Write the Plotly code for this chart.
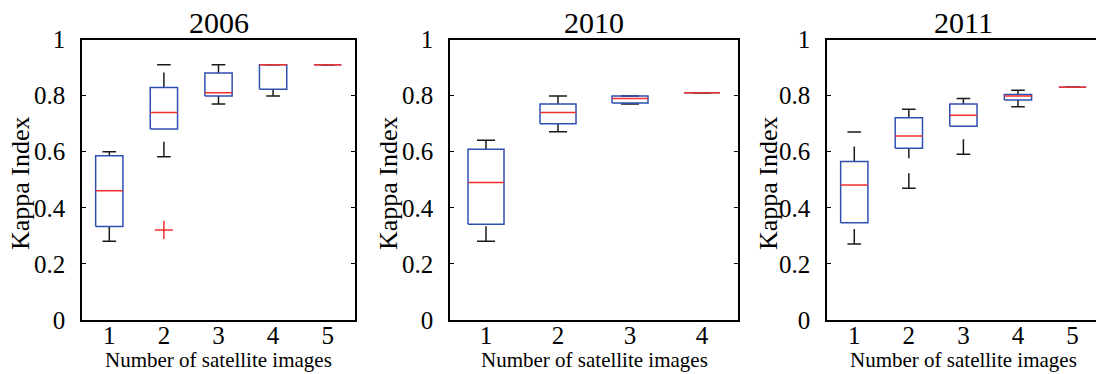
import plotly.graph_objects as go
from plotly.subplots import make_subplots

# Box statistics (Kappa index per number of images)
years = ["2006", "2010", "2011"]

q1_2006 = [0.333, 0.681, 0.799, 0.823, 0.910]
med_2006 = [0.461, 0.740, 0.810, 0.910, 0.910]
q3_2006 = [0.586, 0.829, 0.881, 0.910, 0.910]
lo_2006 = [0.281, 0.582, 0.770, 0.799, 0.910]
hi_2006 = [0.600, 0.910, 0.910, 0.910, 0.910]
out_x_2006 = [2]
out_y_2006 = [0.321]

q1_2010 = [0.341, 0.700, 0.774, 0.810]
med_2010 = [0.490, 0.740, 0.790, 0.810]
q3_2010 = [0.609, 0.770, 0.799, 0.810]
lo_2010 = [0.281, 0.671, 0.770, 0.810]
hi_2010 = [0.641, 0.799, 0.799, 0.810]

q1_2011 = [0.347, 0.612, 0.691, 0.784, 0.830]
med_2011 = [0.481, 0.656, 0.730, 0.799, 0.830]
q3_2011 = [0.565, 0.721, 0.770, 0.804, 0.830]
lo_2011 = [0.271, 0.470, 0.591, 0.760, 0.830]
hi_2011 = [0.670, 0.751, 0.790, 0.819, 0.830]

panels = [
    (q1_2006, med_2006, q3_2006, lo_2006, hi_2006, out_x_2006, out_y_2006),
    (q1_2010, med_2010, q3_2010, lo_2010, hi_2010, [], []),
    (q1_2011, med_2011, q3_2011, lo_2011, hi_2011, [], []),
]

FONT = "Liberation Serif, Times New Roman, serif"
BLUE = "#2f4fb0"
RED = "#f03030"
BLACK = "#1a1a1a"
HALF = 0.25   # half box width
CAP = 0.125   # half whisker cap width

fig = make_subplots(rows=1, cols=3)


def segs(pairs):
    xs, ys = [], []
    for px_, py_ in pairs:
        xs += list(px_) + [None]
        ys += list(py_) + [None]
    return xs, ys


for col, (q1, med, q3, lo, hi, ox, oy) in enumerate(panels, start=1):
    pos = list(range(1, len(q1) + 1))
    # whiskers (dashed), drawn upward
    wx, wy = segs([([p, p], [a, b]) for p, a, b in zip(pos, q3, hi)] +
                  [([p, p], [a, b]) for p, a, b in zip(pos, lo, q1)])
    fig.add_trace(go.Scatter(x=wx, y=wy, mode="lines", hoverinfo="skip",
                             line=dict(color=BLACK, width=1.5, dash="15px,15px")),
                  row=1, col=col)
    # caps
    cx, cy = segs([([p - CAP, p + CAP], [v, v]) for p, v in zip(pos, hi)] +
                  [([p - CAP, p + CAP], [v, v]) for p, v in zip(pos, lo)])
    fig.add_trace(go.Scatter(x=cx, y=cy, mode="lines", hoverinfo="skip",
                             line=dict(color=BLACK, width=1.5)), row=1, col=col)
    # boxes
    bx, by = segs([([p - HALF, p + HALF, p + HALF, p - HALF, p - HALF],
                    [a, a, b, b, a]) for p, a, b in zip(pos, q1, q3)])
    fig.add_trace(go.Scatter(x=bx, y=by, mode="lines", hoverinfo="skip",
                             line=dict(color=BLUE, width=1.5)), row=1, col=col)
    # medians
    mx, my = segs([([p - HALF, p + HALF], [v, v]) for p, v in zip(pos, med)])
    fig.add_trace(go.Scatter(x=mx, y=my, mode="lines", hoverinfo="skip",
                             line=dict(color=RED, width=1.5)), row=1, col=col)
    if ox:
        fig.add_trace(go.Scatter(x=ox, y=oy, mode="markers", hoverinfo="skip",
                                 marker=dict(symbol="cross-thin", size=13,
                                             line=dict(color=RED, width=1.5))),
                      row=1, col=col)

x_domains = [[82 / 1096, 355 / 1096], [450 / 1096, 738 / 1096], [827 / 1096, 1.0]]
x_ranges = [[0.5, 5.5], [0.5, 4.5], [0.5, 5.43]]
n_cats = [5, 4, 5]
y_dom = [(374 - 320) / 374, (374 - 39.5) / 374]

for i in range(3):
    fig.update_xaxes(row=1, col=i + 1, domain=x_domains[i], range=x_ranges[i],
                     tickvals=list(range(1, n_cats[i] + 1)), ticks="",
                     showline=True, linecolor="black", linewidth=1.5, mirror=True,
                     showgrid=False, zeroline=False, ticklabelstandoff=-8,
                     automargin=False,
                     tickfont=dict(family=FONT, size=25, color="black"))
    fig.update_yaxes(row=1, col=i + 1, domain=y_dom, range=[0, 1],
                     tickvals=[0, 0.2, 0.4, 0.6, 0.8, 1],
                     ticks="inside", ticklen=4, tickcolor="black",
                     showline=True, linecolor="black", linewidth=1.5,
                     mirror="ticks" if i < 2 else False,
                     showgrid=False, zeroline=False, ticklabelstandoff=10,
                     automargin=False,
                     tickfont=dict(family=FONT, size=25, color="black"))

annotations = []
title_x = [218.5, 594, 963.5]
ylab_x = [21, 389, 769]
for i in range(3):
    annotations.append(dict(text=years[i], x=title_x[i] / 1096, y=(374 - 22) / 374,
                            xref="paper", yref="paper", showarrow=False,
                            font=dict(family=FONT, size=30, color="black"),
                            xanchor="center", yanchor="middle"))
    annotations.append(dict(text="Number of satellite images", x=title_x[i] / 1096,
                            y=(374 - 360) / 374, xref="paper", yref="paper",
                            showarrow=False, xanchor="center", yanchor="middle",
                            font=dict(family=FONT, size=21, color="black")))
    annotations.append(dict(text="Kappa Index", x=ylab_x[i] / 1096, y=(374 - 183) / 374,
                            xref="paper", yref="paper", showarrow=False, textangle=-90,
                            xanchor="center", yanchor="middle",
                            font=dict(family=FONT, size=26, color="black")))

fig.update_layout(width=1096, height=374, margin=dict(l=0, r=0, t=0, b=0),
                  showlegend=False, plot_bgcolor="white", paper_bgcolor="white",
                  annotations=annotations)

# drop the page's default body margin so the figure sits at the window corner
fig.write_html("out.html", config={"displayModeBar": False},
               post_script="document.body.style.margin='0px';")
